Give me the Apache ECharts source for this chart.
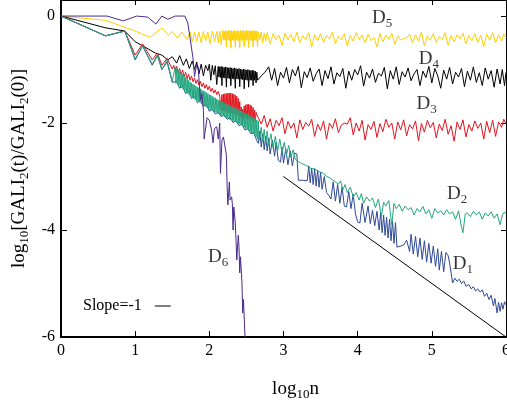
<!DOCTYPE html>
<html lang="en">
<head>
    <meta charset="UTF-8">
    <title>GALI2 decay</title>
    <script src="https://cdn.jsdelivr.net/npm/echarts@6/dist/echarts.min.js"></script>
    <style>
        html, body, #main {
            width: 507px;
            height: 404px;
            padding: 0;
            margin: 0;
            background: #fff;
        }
    </style>
</head>
<body>
<div id="main"></div>
<script>
    // [log10 n, log10 GALI2(t)/GALI2(0)]
    var d5 = [[0,0],[0.6,-0.08],[1.0,-0.28],[1.2,-0.4],[1.36,-0.22],[1.45,-0.36],[1.5,-0.29],[1.57,-0.41],[1.63,-0.3],[1.7,-0.44],[1.74,-0.3],[1.77,-0.48],[1.8,-0.3],[1.83,-0.47],[1.86,-0.3],[1.89,-0.5],[1.92,-0.29],[1.95,-0.46],[1.98,-0.3],[2.01,-0.52],[2.04,-0.28],[2.07,-0.47],[2.1,-0.29],[2.12,-0.5],[2.14,-0.28],[2.16,-0.53],[2.18,-0.27],[2.19,-0.44],[2.2,-0.28],[2.21,-0.45],[2.22,-0.27],[2.23,-0.58],[2.24,-0.28],[2.25,-0.45],[2.26,-0.27],[2.27,-0.46],[2.28,-0.28],[2.29,-0.6],[2.3,-0.27],[2.31,-0.45],[2.32,-0.28],[2.33,-0.46],[2.34,-0.27],[2.35,-0.58],[2.36,-0.28],[2.37,-0.45],[2.38,-0.27],[2.39,-0.46],[2.4,-0.28],[2.41,-0.6],[2.42,-0.27],[2.43,-0.45],[2.44,-0.28],[2.45,-0.46],[2.46,-0.27],[2.47,-0.57],[2.48,-0.28],[2.49,-0.45],[2.5,-0.27],[2.51,-0.46],[2.52,-0.28],[2.53,-0.59],[2.54,-0.27],[2.55,-0.45],[2.56,-0.28],[2.57,-0.46],[2.58,-0.27],[2.59,-0.57],[2.6,-0.28],[2.61,-0.45],[2.62,-0.27],[2.63,-0.46],[2.64,-0.28],[2.65,-0.58],[2.66,-0.3],[2.68,-0.44],[2.7,-0.3],[2.72,-0.5],[2.74,-0.32],[2.76,-0.47],[2.78,-0.31],[2.82,-0.52],[2.86,-0.33],[2.9,-0.44],[2.94,-0.36],[2.98,-0.55],[3.02,-0.32],[3.06,-0.45],[3.1,-0.34],[3.14,-0.48],[3.18,-0.3],[3.22,-0.5],[3.26,-0.37],[3.3,-0.44],[3.34,-0.31],[3.38,-0.58],[3.42,-0.35],[3.46,-0.46],[3.5,-0.33],[3.54,-0.49],[3.58,-0.36],[3.62,-0.43],[3.66,-0.3],[3.7,-0.52],[3.74,-0.38],[3.78,-0.45],[3.82,-0.33],[3.86,-0.56],[3.9,-0.36],[3.94,-0.47],[3.98,-0.31],[4.02,-0.44],[4.06,-0.35],[4.1,-0.5],[4.14,-0.34],[4.18,-0.46],[4.22,-0.4],[4.26,-0.58],[4.3,-0.33],[4.34,-0.48],[4.38,-0.36],[4.42,-0.44],[4.46,-0.32],[4.5,-0.53],[4.54,-0.37],[4.58,-0.45],[4.62,-0.42],[4.66,-0.41],[4.7,-0.34],[4.74,-0.5],[4.78,-0.35],[4.82,-0.47],[4.86,-0.3],[4.9,-0.56],[4.94,-0.37],[4.98,-0.45],[5.02,-0.33],[5.06,-0.5],[5.1,-0.38],[5.14,-0.44],[5.18,-0.31],[5.22,-0.55],[5.26,-0.36],[5.3,-0.48],[5.34,-0.35],[5.38,-0.43],[5.42,-0.32],[5.46,-0.52],[5.5,-0.37],[5.54,-0.46],[5.58,-0.33],[5.62,-0.49],[5.66,-0.36],[5.7,-0.57],[5.74,-0.34],[5.78,-0.45],[5.82,-0.31],[5.86,-0.5],[5.9,-0.35],[5.94,-0.47],[5.97,-0.33],[6.0,-0.4]];

    var d4 = [[0,0],[0.6,-0.22],[0.86,-0.28],[1.0,-0.48],[1.13,-0.58],[1.27,-0.69],[1.36,-0.73],[1.44,-0.82],[1.5,-0.76],[1.56,-0.88],[1.6,-0.74],[1.65,-0.92],[1.69,-0.8],[1.73,-0.98],[1.77,-0.84],[1.8,-1.0],[1.83,-0.86],[1.86,-1.08],[1.89,-0.9],[1.92,-1.12],[1.95,-0.92],[1.98,-1.02],[2.0,-0.9],[2.02,-1.2],[2.04,-0.92],[2.06,-1.1],[2.08,-0.93],[2.1,-1.28],[2.12,-0.94],[2.13,-1.14],[2.14,-0.95],[2.15,-1.15],[2.16,-0.94],[2.17,-1.3],[2.18,-0.95],[2.19,-1.15],[2.2,-0.96],[2.21,-1.16],[2.22,-0.95],[2.23,-1.33],[2.24,-0.96],[2.25,-1.16],[2.26,-0.97],[2.27,-1.17],[2.28,-0.96],[2.29,-1.3],[2.3,-0.97],[2.31,-1.17],[2.32,-0.98],[2.33,-1.18],[2.34,-0.97],[2.35,-1.35],[2.36,-0.98],[2.37,-1.17],[2.38,-0.99],[2.39,-1.18],[2.4,-0.98],[2.41,-1.32],[2.42,-0.99],[2.43,-1.18],[2.44,-1.0],[2.45,-1.19],[2.46,-0.99],[2.47,-1.36],[2.48,-1.0],[2.49,-1.19],[2.5,-1.01],[2.51,-1.2],[2.52,-1.0],[2.53,-1.33],[2.54,-1.01],[2.55,-1.2],[2.56,-1.02],[2.57,-1.2],[2.58,-1.01],[2.59,-1.3],[2.6,-1.02],[2.61,-1.2],[2.62,-1.03],[2.63,-1.25],[2.64,-1.05],[2.65,-1.2],[2.7,-1.12],[2.75,-1.05],[2.8,-0.95],[2.84,-1.2],[2.88,-0.98],[2.92,-1.3],[2.96,-1.05],[3.0,-1.16],[3.04,-0.96],[3.08,-1.25],[3.12,-1.0],[3.16,-1.12],[3.2,-0.94],[3.24,-1.34],[3.28,-1.04],[3.32,-1.15],[3.36,-0.97],[3.4,-1.22],[3.44,-1.08],[3.48,-0.99],[3.52,-1.3],[3.56,-1.02],[3.6,-1.17],[3.64,-0.95],[3.68,-1.27],[3.72,-1.06],[3.76,-1.13],[3.8,-0.98],[3.84,-1.35],[3.88,-1.03],[3.92,-1.2],[3.96,-1.0],[4.0,-1.1],[4.04,-0.93],[4.08,-1.31],[4.12,-1.05],[4.16,-1.16],[4.2,-0.99],[4.24,-1.24],[4.28,-1.07],[4.32,-1.12],[4.36,-0.96],[4.4,-1.36],[4.44,-1.02],[4.48,-1.18],[4.52,-0.95],[4.56,-1.28],[4.6,-1.04],[4.64,-1.14],[4.68,-0.97],[4.72,-1.21],[4.76,-1.08],[4.8,-1.0],[4.84,-1.3],[4.88,-1.03],[4.92,-1.15],[4.96,-0.94],[5.0,-1.25],[5.04,-0.98],[5.08,-1.12],[5.12,-1.35],[5.16,-1.01],[5.2,-1.18],[5.24,-0.96],[5.28,-1.27],[5.32,-1.05],[5.36,-1.14],[5.4,-0.98],[5.44,-1.32],[5.48,-1.03],[5.52,-1.2],[5.56,-0.95],[5.6,-1.24],[5.64,-1.06],[5.68,-1.3],[5.72,-0.97],[5.76,-1.18],[5.8,-1.02],[5.84,-1.33],[5.88,-0.99],[5.92,-1.27],[5.95,-1.0],[5.98,-1.3],[6.0,-1.05]];

    var d3 = [[0,0],[0.6,-0.37],[0.86,-0.28],[1.0,-0.73],[1.1,-0.52],[1.23,-0.82],[1.3,-0.69],[1.36,-0.92],[1.43,-0.79],[1.5,-0.99],[1.52,-0.92],[1.54,-1.02],[1.56,-0.94],[1.58,-1.06],[1.6,-0.98],[1.62,-1.1],[1.64,-1.01],[1.66,-1.14],[1.68,-1.05],[1.7,-1.17],[1.72,-1.09],[1.74,-1.2],[1.76,-1.12],[1.78,-1.23],[1.8,-1.16],[1.82,-1.26],[1.84,-1.19],[1.86,-1.29],[1.88,-1.22],[1.9,-1.32],[1.92,-1.25],[1.94,-1.35],[1.96,-1.28],[1.98,-1.38],[2.0,-1.31],[2.02,-1.41],[2.04,-1.35],[2.06,-1.44],[2.08,-1.38],[2.1,-1.47],[2.12,-1.41],[2.14,-1.5],[2.15,-1.48],[2.16,-1.76],[2.17,-1.47],[2.18,-1.77],[2.19,-1.46],[2.2,-1.78],[2.21,-1.45],[2.22,-1.78],[2.23,-1.45],[2.24,-1.79],[2.25,-1.44],[2.26,-1.8],[2.27,-1.44],[2.28,-1.8],[2.29,-1.44],[2.3,-1.81],[2.31,-1.45],[2.32,-1.82],[2.33,-1.46],[2.34,-1.83],[2.35,-1.48],[2.36,-1.84],[2.37,-1.5],[2.38,-1.85],[2.39,-1.54],[2.4,-1.86],[2.41,-1.6],[2.42,-1.88],[2.43,-1.7],[2.44,-2.04],[2.45,-1.74],[2.46,-1.9],[2.47,-1.68],[2.48,-1.91],[2.49,-1.66],[2.5,-1.92],[2.51,-1.65],[2.52,-1.93],[2.53,-1.65],[2.54,-1.94],[2.55,-1.66],[2.56,-1.95],[2.57,-1.68],[2.58,-1.96],[2.59,-1.71],[2.6,-1.97],[2.61,-1.76],[2.62,-1.98],[2.63,-1.8],[2.64,-1.82],[2.66,-1.9],[2.7,-2.02],[2.74,-1.86],[2.78,-2.08],[2.82,-1.92],[2.86,-2.15],[2.9,-1.95],[2.94,-2.05],[2.98,-1.9],[3.02,-2.2],[3.06,-1.97],[3.1,-2.1],[3.14,-2.0],[3.18,-2.28],[3.22,-1.94],[3.26,-2.12],[3.3,-1.99],[3.34,-2.06],[3.38,-1.93],[3.42,-2.25],[3.46,-2.02],[3.5,-2.14],[3.54,-1.96],[3.58,-2.3],[3.62,-2.0],[3.66,-2.1],[3.7,-1.92],[3.74,-2.18],[3.78,-2.04],[3.82,-2.0],[3.86,-2.02],[3.9,-1.9],[3.94,-2.22],[3.98,-2.0],[4.02,-2.15],[4.06,-1.95],[4.1,-2.32],[4.14,-2.03],[4.18,-2.12],[4.22,-1.97],[4.26,-2.27],[4.3,-2.01],[4.34,-2.16],[4.38,-1.93],[4.42,-2.08],[4.46,-2.0],[4.5,-2.3],[4.54,-1.98],[4.58,-2.13],[4.62,-1.94],[4.66,-2.24],[4.7,-2.03],[4.74,-2.11],[4.78,-1.96],[4.82,-2.33],[4.86,-2.01],[4.9,-2.17],[4.94,-1.95],[4.98,-2.09],[5.02,-1.99],[5.06,-2.28],[5.1,-2.02],[5.14,-2.14],[5.18,-1.93],[5.22,-2.21],[5.26,-2.05],[5.3,-2.34],[5.34,-1.98],[5.38,-2.12],[5.42,-1.94],[5.46,-2.26],[5.5,-2.03],[5.54,-2.15],[5.58,-1.96],[5.62,-2.1],[5.66,-2.0],[5.7,-2.3],[5.74,-1.97],[5.78,-2.18],[5.82,-1.95],[5.86,-2.25],[5.9,-1.98],[5.94,-2.08],[5.97,-1.93],[6.0,-2.02]];

    var d2 = [[0,0],[0.6,-0.37],[0.86,-0.28],[1.0,-0.8],[1.1,-0.55],[1.23,-0.9],[1.3,-0.72],[1.36,-1.0],[1.43,-0.82],[1.5,-1.22],[1.54,-0.95],[1.55,-1.26],[1.56,-0.98],[1.57,-1.28],[1.58,-1.01],[1.59,-1.3],[1.6,-1.04],[1.61,-1.33],[1.62,-1.07],[1.63,-1.35],[1.64,-1.09],[1.65,-1.38],[1.66,-1.12],[1.67,-1.4],[1.68,-1.15],[1.69,-1.43],[1.7,-1.17],[1.71,-1.45],[1.72,-1.2],[1.73,-1.48],[1.74,-1.23],[1.75,-1.5],[1.76,-1.25],[1.77,-1.52],[1.78,-1.27],[1.79,-1.54],[1.8,-1.29],[1.81,-1.56],[1.82,-1.31],[1.83,-1.58],[1.84,-1.33],[1.85,-1.6],[1.86,-1.34],[1.87,-1.61],[1.88,-1.36],[1.89,-1.63],[1.9,-1.38],[1.91,-1.65],[1.92,-1.4],[1.93,-1.67],[1.94,-1.41],[1.95,-1.69],[1.96,-1.43],[1.97,-1.71],[1.98,-1.45],[1.99,-1.73],[2.0,-1.47],[2.01,-1.75],[2.02,-1.48],[2.03,-1.76],[2.04,-1.5],[2.05,-1.78],[2.06,-1.52],[2.07,-1.79],[2.08,-1.53],[2.09,-1.8],[2.1,-1.55],[2.11,-1.82],[2.12,-1.57],[2.13,-1.83],[2.14,-1.58],[2.15,-1.85],[2.16,-1.6],[2.17,-1.86],[2.18,-1.61],[2.19,-1.87],[2.2,-1.62],[2.21,-1.89],[2.22,-1.64],[2.23,-1.9],[2.24,-1.65],[2.25,-1.91],[2.26,-1.66],[2.27,-1.93],[2.28,-1.68],[2.29,-1.94],[2.3,-1.69],[2.31,-1.95],[2.32,-1.7],[2.33,-1.97],[2.34,-1.71],[2.35,-1.98],[2.36,-1.73],[2.37,-1.99],[2.38,-1.74],[2.39,-2.01],[2.4,-1.75],[2.41,-2.02],[2.42,-1.77],[2.43,-2.04],[2.44,-1.78],[2.45,-2.06],[2.46,-1.8],[2.47,-2.08],[2.48,-1.81],[2.49,-2.1],[2.5,-1.83],[2.51,-2.12],[2.52,-1.84],[2.53,-2.14],[2.54,-1.86],[2.55,-2.16],[2.56,-1.87],[2.57,-2.18],[2.58,-1.89],[2.59,-2.2],[2.6,-1.9],[2.61,-2.23],[2.62,-1.92],[2.63,-2.26],[2.64,-1.94],[2.65,-2.3],[2.66,-1.96],[2.67,-2.33],[2.7,-2.08],[2.72,-2.35],[2.74,-2.12],[2.76,-2.4],[2.78,-2.15],[2.8,-2.42],[2.83,-2.2],[2.86,-2.47],[2.89,-2.25],[2.92,-2.52],[2.95,-2.3],[2.98,-2.56],[3.01,-2.36],[3.04,-2.6],[3.07,-2.42],[3.1,-2.64],[3.13,-2.5],[3.16,-2.68],[3.2,-2.72],[3.25,-2.76],[3.3,-2.79],[3.34,-2.82],[3.38,-2.86],[3.42,-2.85],[3.46,-2.9],[3.5,-2.92],[3.54,-2.94],[3.58,-3.0],[3.62,-3.02],[3.66,-3.06],[3.7,-3.1],[3.74,-3.14],[3.77,-3.08],[3.8,-3.25],[3.83,-3.15],[3.86,-3.3],[3.9,-3.2],[3.94,-3.38],[3.98,-3.3],[4.02,-3.44],[4.05,-3.32],[4.08,-3.5],[4.12,-3.38],[4.16,-3.46],[4.2,-3.4],[4.24,-3.58],[4.28,-3.42],[4.32,-3.75],[4.35,-3.48],[4.38,-3.55],[4.42,-3.45],[4.46,-3.9],[4.49,-3.5],[4.52,-3.6],[4.56,-3.52],[4.6,-3.65],[4.64,-3.55],[4.68,-3.62],[4.72,-3.58],[4.76,-3.72],[4.8,-3.6],[4.84,-3.66],[4.88,-3.56],[4.92,-3.7],[4.96,-3.62],[5.0,-3.78],[5.04,-3.6],[5.08,-3.68],[5.12,-3.64],[5.16,-3.72],[5.2,-3.62],[5.24,-3.7],[5.28,-3.66],[5.32,-3.8],[5.36,-3.64],[5.4,-3.95],[5.42,-4.05],[5.45,-3.7],[5.48,-3.68],[5.52,-3.75],[5.56,-3.65],[5.6,-3.72],[5.64,-3.66],[5.68,-3.8],[5.72,-3.68],[5.76,-3.74],[5.8,-3.66],[5.84,-3.78],[5.88,-3.7],[5.92,-3.9],[5.95,-3.72],[5.98,-3.66],[6.0,-3.7]];

    var d1 = [[0,0],[0.6,-0.37],[0.86,-0.28],[1.0,-0.82],[1.1,-0.56],[1.23,-0.92],[1.3,-0.74],[1.36,-1.0],[1.43,-0.86],[1.5,-1.24],[1.56,-1.22],[1.6,-1.35],[1.64,-1.3],[1.68,-1.45],[1.72,-1.4],[1.76,-1.54],[1.8,-1.5],[1.84,-1.62],[1.88,-1.58],[1.92,-1.69],[1.96,-1.65],[2.0,-1.78],[2.04,-1.74],[2.08,-1.83],[2.12,-1.8],[2.16,-1.88],[2.2,-1.85],[2.24,-1.93],[2.28,-1.9],[2.32,-1.99],[2.36,-1.96],[2.4,-2.05],[2.44,-2.02],[2.48,-2.13],[2.52,-2.1],[2.56,-2.2],[2.6,-2.18],[2.64,-2.33],[2.66,-2.38],[2.68,-2.15],[2.7,-2.45],[2.72,-2.2],[2.74,-2.5],[2.76,-2.25],[2.78,-2.52],[2.8,-2.28],[2.82,-2.58],[2.85,-2.32],[2.88,-2.62],[2.9,-2.36],[2.93,-2.7],[2.96,-2.73],[2.98,-2.45],[3.0,-2.75],[3.03,-2.48],[3.06,-2.78],[3.09,-2.52],[3.12,-2.8],[3.15,-2.56],[3.18,-2.58],[3.2,-3.07],[3.26,-3.07],[3.32,-3.08],[3.34,-2.8],[3.36,-3.12],[3.38,-2.84],[3.4,-3.15],[3.42,-2.86],[3.44,-3.18],[3.46,-2.88],[3.48,-3.2],[3.5,-2.92],[3.52,-3.24],[3.55,-3.0],[3.58,-3.3],[3.61,-3.35],[3.64,-3.42],[3.67,-3.1],[3.7,-3.46],[3.73,-3.15],[3.76,-3.5],[3.79,-3.2],[3.82,-3.55],[3.85,-3.57],[3.88,-3.28],[3.91,-3.6],[3.94,-3.33],[3.97,-3.7],[4.0,-3.85],[4.03,-3.87],[4.06,-3.5],[4.1,-3.86],[4.14,-3.55],[4.17,-3.88],[4.2,-3.63],[4.23,-3.92],[4.26,-3.65],[4.29,-4.0],[4.31,-3.68],[4.33,-4.05],[4.35,-3.72],[4.37,-4.1],[4.39,-3.76],[4.41,-4.15],[4.43,-3.8],[4.45,-4.2],[4.47,-3.83],[4.49,-4.25],[4.51,-3.86],[4.53,-4.32],[4.58,-4.3],[4.62,-4.28],[4.66,-4.19],[4.7,-4.4],[4.72,-4.08],[4.75,-4.45],[4.78,-4.12],[4.81,-4.5],[4.84,-4.15],[4.87,-4.55],[4.9,-4.2],[4.93,-4.6],[4.96,-4.25],[4.99,-4.62],[5.02,-4.3],[5.05,-4.68],[5.08,-4.35],[5.1,-4.75],[5.13,-4.4],[5.16,-4.78],[5.19,-4.42],[5.22,-4.48],[5.24,-4.62],[5.26,-4.6],[5.28,-4.99],[5.31,-4.9],[5.34,-4.96],[5.37,-4.92],[5.4,-5.0],[5.43,-4.95],[5.46,-5.05],[5.5,-5.02],[5.53,-5.1],[5.56,-5.06],[5.59,-5.14],[5.62,-5.1],[5.65,-5.16],[5.68,-5.12],[5.71,-5.24],[5.74,-5.18],[5.77,-5.3],[5.8,-5.22],[5.83,-5.42],[5.85,-5.28],[5.88,-5.55],[5.9,-5.35],[5.92,-5.52],[5.94,-5.36],[5.96,-5.48],[5.98,-5.34],[6.0,-5.4]];

    var d6 = [[0,0],[0.62,0.0],[0.84,-0.09],[1.02,0.0],[1.17,-0.02],[1.28,-0.15],[1.36,0.0],[1.44,-0.06],[1.54,0.0],[1.67,0.0],[1.71,-0.13],[1.74,-0.41],[1.78,-0.79],[1.8,-1.13],[1.83,-0.9],[1.85,-0.95],[1.87,-1.38],[1.88,-1.57],[1.9,-1.45],[1.92,-1.76],[1.93,-2.3],[1.94,-2.19],[1.97,-1.9],[2.0,-1.95],[2.03,-2.13],[2.05,-2.37],[2.07,-2.1],[2.1,-2.07],[2.12,-2.3],[2.14,-2.0],[2.15,-2.94],[2.17,-2.32],[2.19,-2.26],[2.21,-2.26],[2.23,-2.6],[2.24,-3.2],[2.25,-3.53],[2.27,-3.1],[2.28,-3.44],[2.3,-3.38],[2.31,-3.5],[2.32,-4.0],[2.33,-3.57],[2.35,-3.87],[2.36,-4.2],[2.37,-4.56],[2.39,-4.1],[2.4,-4.32],[2.41,-4.8],[2.42,-4.5],[2.44,-4.99],[2.45,-5.55],[2.46,-5.3],[2.48,-5.96],[2.49,-6.1]];

    var slope = [[3, -3], [6, -6]];

    var curveNames = ["D5", "D4", "D3", "D2", "D1", "D6"];
    var curveData = [d5, d4, d3, d2, d1, d6];
    var curveColors = ["#ffd000", "#000000", "#e3141e", "#22a77e", "#2e4a94", "#4b2a8c"];
    var curveZ = [2, 3, 4, 6, 5, 7];

    // where the D labels sit, in data units
    var labelSpots = [[4.33, -0.03], [4.96, -0.8], [4.93, -1.64], [5.34, -3.32], [5.42, -4.63], [2.12, -4.5]];

    var serif = "Liberation Serif";
    var chart = echarts.init(document.getElementById("main"), null, {renderer: "canvas"});

    var series = curveData.map(function (d, i) {
        return {
            name: curveNames[i],
            type: "line",
            data: d,
            showSymbol: false,
            symbol: "none",
            silent: true,
            z: curveZ[i],
            lineStyle: {color: curveColors[i], width: 1},
            itemStyle: {color: curveColors[i]}
        };
    });

    series.push({
        name: "Slope=-1",
        type: "line",
        data: slope,
        showSymbol: false,
        symbol: "none",
        z: 1,
        lineStyle: {color: "#000", width: 1},
        itemStyle: {color: "#000"}
    });

    series.push({
        type: "scatter",
        symbolSize: 0,
        z: 20,
        data: labelSpots.map(function (p, i) {
            return {value: p, name: curveNames[i]};
        }),
        label: {
            show: true,
            position: "inside",
            formatter: function (p) {
                return "{d|D}{s|" + p.name.slice(1) + "}";
            },
            rich: {
                d: {fontFamily: serif, fontSize: 19, color: "#000", lineHeight: 24},
                s: {fontFamily: serif, fontSize: 13, color: "#000", lineHeight: 13, verticalAlign: "bottom"}
            }
        }
    });

    var titleRich = {
        a: {fontFamily: serif, fontSize: 19, color: "#000", lineHeight: 24},
        b: {fontFamily: serif, fontSize: 13, color: "#000", lineHeight: 13, verticalAlign: "bottom"}
    };

    chart.setOption({
        animation: false,
        backgroundColor: "#fff",
        grid: {left: 61, right: 1, top: 0, bottom: 67, outerBoundsMode: "none", containLabel: false},
        legend: {
            data: ["Slope=-1"],
            left: 78,
            top: 293,
            align: "right",
            icon: "rect",
            itemWidth: 16,
            itemHeight: 1,
            formatter: "Slope=-1  ",
            textStyle: {fontFamily: serif, fontSize: 16, color: "#000"}
        },
        xAxis: [{
            type: "value",
            min: 0,
            max: 6,
            interval: 1,
            name: "{a|log}{b|10}{a|n}",
            nameLocation: "middle",
            nameGap: 40,
            nameTextStyle: {padding: [0, 0, 0, 24], rich: titleRich},
            axisLine: {onZero: false, lineStyle: {color: "#000", width: 2}},
            axisTick: {inside: true, length: 6, lineStyle: {color: "#000"}},
            axisLabel: {fontFamily: serif, fontSize: 16, color: "#000", margin: 6},
            splitLine: {show: false}
        }, {
            type: "value",
            position: "top",
            min: 0,
            max: 6,
            interval: 1,
            axisLine: {onZero: false, lineStyle: {color: "#000", width: 1}},
            axisTick: {inside: true, length: 5, lineStyle: {color: "#000"}},
            axisLabel: {show: false},
            splitLine: {show: false}
        }],
        yAxis: [{
            type: "value",
            min: -6,
            max: 0.3,
            interval: 2,
            name: "{a|log}{b|10}{a|[GALI}{b|2}{a|(t)/GALI}{b|2}{a|(0)]}",
            nameLocation: "middle",
            nameRotate: 90,
            nameGap: 28,
            nameTextStyle: {rich: titleRich},
            axisLine: {onZero: false, lineStyle: {color: "#000", width: 2}},
            axisTick: {inside: true, length: 6, lineStyle: {color: "#000"}},
            axisLabel: {
                fontFamily: serif, fontSize: 16, color: "#000", margin: 6,
                showMaxLabel: false, padding: [0, 0, 9, 0]
            },
            splitLine: {show: false}
        }, {
            type: "value",
            position: "right",
            min: -6,
            max: 0.3,
            interval: 2,
            axisLine: {show: true, onZero: false, lineStyle: {color: "#000", width: 1}},
            axisTick: {inside: true, length: 5, lineStyle: {color: "#000"}},
            axisLabel: {show: false},
            splitLine: {show: false}
        }],
        series: series
    });
</script>
</body>
</html>
